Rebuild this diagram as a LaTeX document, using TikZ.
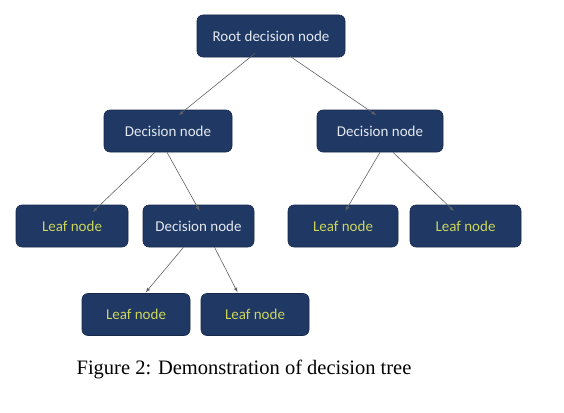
\documentclass[tikz,border=0pt]{standalone}
\usepackage{fontspec}
\setmainfont{Carlito}
\newfontfamily\captionfont{Liberation Serif}
\usepackage{xcolor}
\definecolor{TreeNavy}{HTML}{1F3864}
\definecolor{TreeEdge}{HTML}{17294A}
\definecolor{TreeWhite}{HTML}{E4E9F0}
\definecolor{TreeLeaf}{HTML}{CCD65C}
\definecolor{TreeArrow}{HTML}{5F6368}
\usepackage{tikz}
\tikzset{>=latex}
\tikzstyle{treebox}=[draw=TreeEdge, fill=TreeNavy, line width=0.6, rounded corners=6, minimum height=42, inner sep=0, font=\fontsize{15}{18}\selectfont]
\tikzstyle{decision}=[treebox, text=TreeWhite]
\tikzstyle{leaf}=[treebox, text=TreeLeaf]
\tikzstyle{branch}=[->, TreeArrow, line width=0.6, shorten >=1]

\begin{document}
\begin{tikzpicture}[x=1pt, y=-1pt]
		\useasboundingbox (0,0) rectangle (564,412);
		
		% Nodes
		\node[decision, minimum width=148] (root) at (271,36) {Root decision node};
		\node[decision, minimum width=128] (decL) at (168,131) {Decision node};
		\node[decision, minimum width=126] (decR) at (380,131) {Decision node};
		\node[leaf, minimum width=112] (leafA) at (72,226) {Leaf node};
		\node[decision, minimum width=111] (decM) at (198.5,226) {Decision node};
		\node[leaf, minimum width=110] (leafB) at (343,226) {Leaf node};
		\node[leaf, minimum width=111] (leafC) at (465.5,226) {Leaf node};
		\node[leaf, minimum width=108] (leafD) at (136,314.5) {Leaf node};
		\node[leaf, minimum width=108] (leafE) at (255,314.5) {Leaf node};
		
		% Arrows
		\draw[branch] ([xshift=-16, yshift=4]root.south) -- ([xshift=10, yshift=-6]decL.north);
		\draw[branch] ([xshift=19, yshift=1]root.south) -- ([xshift=-3, yshift=-6]decR.north);
		\draw[branch] ([xshift=-13]decL.south) -- ([xshift=20, yshift=-8]leafA.north);
		\draw[branch] ([xshift=-1]decL.south) -- ([xshift=1.5, yshift=-7]decM.north);
		\draw[branch] ([xshift=-15]decM.south) -- ([xshift=9]leafD.north);
		\draw[branch] ([xshift=16]decM.south) -- ([xshift=-17]leafE.north);
		\draw[branch] ([xshift=0]decR.south) -- ([xshift=2, yshift=-7]leafB.north);
		\draw[branch] ([xshift=13]decR.south) -- ([xshift=-11, yshift=-7]leafC.north);
		
		% Caption
		\node (caption) at (244,369) {\captionfont\fontsize{20.5}{24}\selectfont Figure 2: Demonstration of decision tree};
	\end{tikzpicture}
\end{document}
